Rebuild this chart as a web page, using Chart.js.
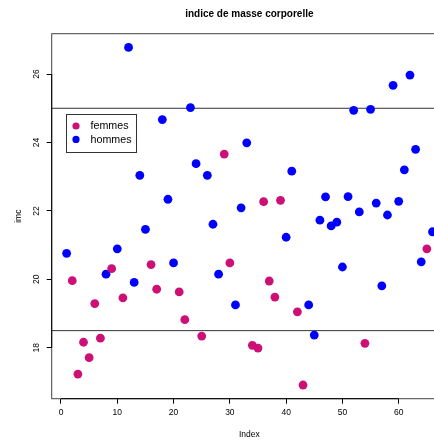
<!DOCTYPE html>
<html>
<head>
<meta charset="utf-8">
<script src="https://cdn.jsdelivr.net/npm/chart.js@4/dist/chart.umd.min.js"></script>
<style>
  html, body { margin: 0; padding: 0; background: #fff; overflow: hidden; }
  #wrap { width: 434px; height: 440px; }
</style>
</head>
<body>
<div id="wrap"><canvas id="imcChart" width="434" height="440"></canvas></div>
<script>
// individus 1..66 : imc et sexe (F = femmes, H = hommes)
const imc = [
  20.76, 19.96, 17.23, 18.16, 17.71, 19.29, 18.28, 20.15, 20.31, 20.89,
  19.46, 26.78, 19.91, 23.04, 21.46, 20.43, 19.71, 24.67, 22.34, 20.48,
  19.63, 18.82, 25.02, 23.38, 18.34, 23.04, 21.61, 20.15, 23.66, 20.48,
  19.25, 22.09, 23.99, 18.07, 17.99, 22.27, 19.95, 19.48, 22.31, 21.23,
  23.16, 19.05, 16.91, 19.25, 18.37, 21.73, 22.41, 21.56, 21.67, 20.36,
  22.42, 24.94, 21.97, 18.13, 24.97, 22.23, 19.81, 21.88, 25.67, 22.28,
  23.20, 25.97, 23.80, 20.51, 20.89, 21.39
];
const sexe = [
  'H','F','F','F','F','F','F','H','F','H',
  'F','H','H','H','H','F','F','H','H','H',
  'F','F','H','H','F','H','H','H','F','F',
  'H','H','H','F','F','F','F','F','F','H',
  'H','F','F','H','H','H','H','H','H','H',
  'H','H','H','F','H','H','H','H','H','H',
  'H','H','H','H','F','H'
];
const groupes = ['femmes', 'hommes'];
const codes = ['F', 'H'];
const couleurs = ['#CD1076', '#0000FF'];
const xTicks = [0, 10, 20, 30, 40, 50, 60];
const yTicks = [18, 20, 22, 24, 26];
const seuils = [18.5, 25];

document.addEventListener('DOMContentLoaded', () => {
    const font = 'Liberation Sans, Arial, Helvetica, sans-serif';

    const datasets = groupes.map((g, k) => ({
        label: g,
        data: imc.map((v, i) => ({ x: i + 1, y: v })).filter((p, i) => sexe[i] === codes[k]),
        backgroundColor: couleurs[k],
        borderWidth: 0,
        pointRadius: 4.4,
        pointHoverRadius: 4.4,
        clip: false
    }));

    // R-style decorations: box, axes, reference lines, labels, legend
    const rPlot = {
        id: 'rPlot',
        beforeDatasetsDraw(chart) {
            const { ctx, chartArea: a, scales: { y } } = chart;
            ctx.save();
            ctx.strokeStyle = '#333';
            ctx.lineWidth = 1;
            seuils.forEach(s => {
                const py = y.getPixelForValue(s);
                ctx.beginPath();
                ctx.moveTo(a.left, py);
                ctx.lineTo(a.right + 20, py);
                ctx.stroke();
            });
            ctx.restore();
        },
        afterDraw(chart) {
            const { ctx, chartArea: a, scales: { x, y } } = chart;
            ctx.save();
            // box
            ctx.strokeStyle = '#444';
            ctx.lineWidth = 1;
            ctx.strokeRect(a.left, a.top, a.right + 20 - a.left, a.bottom - a.top);
            // axis lines from first to last tick
            ctx.strokeStyle = '#000';
            ctx.beginPath();
            ctx.moveTo(x.getPixelForValue(xTicks[0]), a.bottom);
            ctx.lineTo(x.getPixelForValue(xTicks[xTicks.length - 1]), a.bottom);
            ctx.moveTo(a.left, y.getPixelForValue(yTicks[0]));
            ctx.lineTo(a.left, y.getPixelForValue(yTicks[yTicks.length - 1]));
            ctx.stroke();

            // y tick labels, rotated like R
            ctx.fillStyle = '#000';
            ctx.font = '8.5px ' + font;
            ctx.textAlign = 'center';
            ctx.textBaseline = 'middle';
            y.ticks.forEach(t => {
                ctx.save();
                ctx.translate(a.left - 15, y.getPixelForValue(t.value));
                ctx.rotate(-Math.PI / 2);
                ctx.fillText(t.label, 0, 0);
                ctx.restore();
            });

            // axis titles
            const cx = (a.left + 447) / 2;
            ctx.fillText('Index', cx, 435);
            ctx.save();
            ctx.translate(19, (a.top + a.bottom) / 2);
            ctx.rotate(-Math.PI / 2);
            ctx.fillText('imc', 0, 0);
            ctx.restore();

            // main title
            ctx.font = 'bold 10px ' + font;
            ctx.fillText('indice de masse corporelle', cx, 14.5);

            // legend
            const lx = 66.5, ly = 114.5, lw = 70, lh = 38;
            ctx.fillStyle = '#fff';
            ctx.fillRect(lx, ly, lw, lh);
            ctx.strokeStyle = '#333';
            ctx.strokeRect(lx, ly, lw, lh);
            ctx.font = '10.7px ' + font;
            ctx.textAlign = 'left';
            groupes.forEach((g, k) => {
                const py = 126 + k * 13.4;
                ctx.fillStyle = couleurs[k];
                ctx.beginPath();
                ctx.arc(76, py, 3.6, 0, Math.PI * 2);
                ctx.fill();
                ctx.fillStyle = '#000';
                ctx.fillText(g, 90.5, py + 0.5);
            });
            ctx.restore();
        }
    };

    new Chart(document.getElementById('imcChart'), {
        type: 'scatter',
        data: { datasets },
        options: {
            responsive: false,
            animation: false,
            devicePixelRatio: 1,
            layout: { padding: { top: 33.7, left: 0, right: 0, bottom: 0 }, autoPadding: false },
            plugins: {
                legend: { display: false },
                title: { display: false },
                tooltip: { enabled: false }
            },
            scales: {
                x: {
                    type: 'linear',
                    min: -1.652,
                    max: 66.27,
                    afterBuildTicks: s => { s.ticks = xTicks.map(v => ({ value: v })); },
                    afterFit: s => { s.height = 41.3; },
                    border: { display: false },
                    grid: { drawOnChartArea: false, drawTicks: true, tickLength: 5, color: '#000' },
                    ticks: {
                        color: '#000',
                        font: { family: font, size: 8.5 },
                        padding: 4,
                        maxRotation: 0,
                        autoSkip: false
                    }
                },
                y: {
                    type: 'linear',
                    min: 16.51,
                    max: 27.18,
                    afterBuildTicks: s => { s.ticks = yTicks.map(v => ({ value: v })); },
                    afterFit: s => { s.width = 51.7; },
                    border: { display: false },
                    grid: { drawOnChartArea: false, drawTicks: true, tickLength: 5, color: '#000' },
                    ticks: { display: false }
                }
            }
        },
        plugins: [rPlot]
    });
});
</script>
</body>
</html>
